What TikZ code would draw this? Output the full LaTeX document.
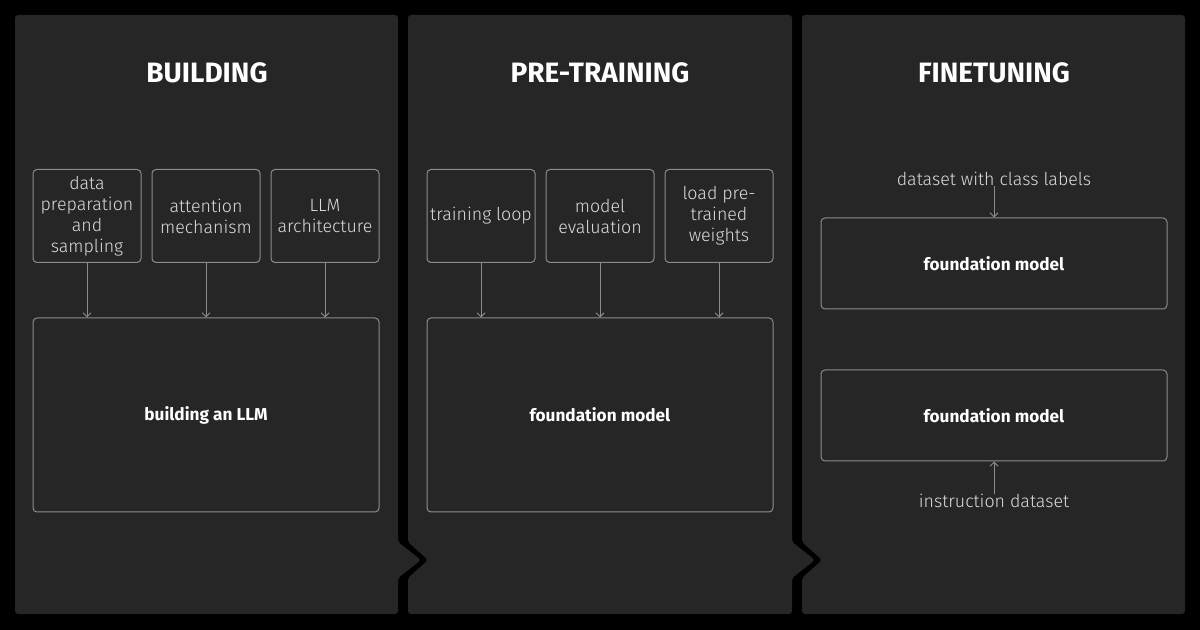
\documentclass[tikz,border=0pt]{standalone}
\usepackage{fontspec}
\setmainfont{Fira Sans}[UprightFont=* Light,BoldFont=* Bold]
\usetikzlibrary{arrows.meta}
\definecolor{panelgray}{HTML}{262626}
\definecolor{boxgray}{HTML}{8C8C8C}
\definecolor{lighttext}{HTML}{DCDCDC}

\begin{document}
\begin{tikzpicture}[x=0.5pt,y=-0.5pt,
    title/.style={font=\bfseries\fontsize{14}{16}\selectfont,text=white},
    smallbox/.style={draw=boxgray,line width=0.5pt,rounded corners=2pt,%
      minimum width=54pt,minimum height=46.5pt,inner sep=0pt,align=center,%
      text=lighttext,font=\fontsize{8.9}{10.5}\selectfont},
    bigbox/.style={draw=boxgray,line width=0.5pt,rounded corners=2pt,%
      minimum width=173pt,inner sep=0pt,text=white,%
      font=\bfseries\fontsize{8.6}{10}\selectfont},
    plaintext/.style={text=lighttext,inner sep=0pt,%
      font=\fontsize{8.9}{10.5}\selectfont},
    flow/.style={draw=boxgray,line width=0.5pt,%
      -{Straight Barb[length=2pt,width=4pt]}}]

      % 背景
      \fill[black] (0,0) rectangle (1200,630);
      \useasboundingbox (0,0) rectangle (1200,630);

      % パネル
      \fill[panelgray,rounded corners=1.5pt] (15,15) -- (398,15) -- (398,542)
        -- (421,560) -- (398,578) -- (398,614) -- (15,614) -- cycle;
      \fill[panelgray,rounded corners=1.5pt] (408,15) -- (792,15) -- (792,542)
        -- (815,560) -- (792,578) -- (792,614) -- (408,614) -- (408,578)
        -- (428,560) -- (408,542) -- cycle;
      \fill[panelgray,rounded corners=1.5pt] (802,15) -- (1185,15) -- (1185,614)
        -- (802,614) -- (802,578) -- (822,560) -- (802,542) -- cycle;

      % 見出し
      \node[title] (buildtitle) at (207,73) {BUILDING};
      \node[title] (pretraintitle) at (600,73) {PRE-TRAINING};
      \node[title] (finetunetitle) at (994,73) {FINETUNING};

      % BUILDING
      \node[smallbox] (dataprep) at (87,216) {data\\preparation\\and\\sampling};
      \node[smallbox] (attention) at (206,216) {attention\\mechanism};
      \node[smallbox] (architecture) at (325,216) {LLM\\architecture};
      \node[bigbox,minimum height=97pt] (buildllm) at (206,415) {building an LLM};

      \draw[flow] (dataprep.south) -- (dataprep.south |- buildllm.north);
      \draw[flow] (attention.south) -- (attention.south |- buildllm.north);
      \draw[flow] (architecture.south) -- (architecture.south |- buildllm.north);

      % PRE-TRAINING
      \node[smallbox] (trainloop) at (481,216) {training loop};
      \node[smallbox] (modeleval) at (600,216) {model\\evaluation};
      \node[smallbox] (loadweights) at (719,216) {load pre-\\trained\\weights};
      \node[bigbox,minimum height=97pt] (pretrainmodel) at (600,415) {foundation model};

      \draw[flow] (trainloop.south) -- (trainloop.south |- pretrainmodel.north);
      \draw[flow] (modeleval.south) -- (modeleval.south |- pretrainmodel.north);
      \draw[flow] (loadweights.south) -- (loadweights.south |- pretrainmodel.north);

      % FINETUNING
      \node[plaintext] (classdata) at (994,179) {dataset with class labels};
      \node[bigbox,minimum height=45.5pt] (classmodel) at (994,263.5) {foundation model};
      \node[bigbox,minimum height=45.5pt] (instructmodel) at (994,415.5) {foundation model};
      \node[plaintext] (instructdata) at (994,501) {instruction dataset};

      \draw[flow] (classdata) -- (classmodel.north);
      \draw[flow] (instructdata) -- (instructmodel.south);
    \end{tikzpicture}
\end{document}
